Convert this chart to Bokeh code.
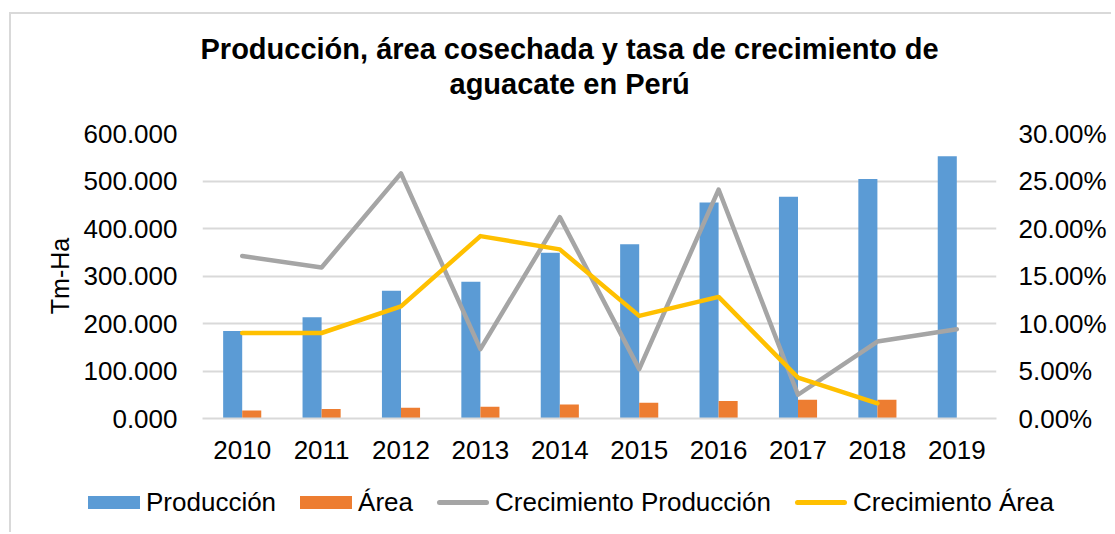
from bokeh.plotting import figure
from bokeh.layouts import column
from bokeh.models import (ColumnDataSource, Range1d, LinearAxis, FixedTicker, Title,
                          FactorRange, Div)
from bokeh.transform import dodge
from bokeh.embed import file_html
from bokeh.resources import INLINE

NaN = float("nan")

years = ["2010", "2011", "2012", "2013", "2014", "2015", "2016", "2017", "2018", "2019"]
produccion = [184000, 213000, 269000, 288000, 349000, 367000, 455000, 467000, 504000, 552000]
area = [17000, 20000, 22500, 25000, 29500, 33000, 37000, 39500, 39500, NaN]
crec_produccion = [17.1, 15.9, 25.8, 7.3, 21.2, 5.2, 24.1, 2.5, 8.1, 9.4]
crec_area = [9.0, 9.0, 11.8, 19.2, 17.8, 10.8, 12.8, 4.3, 1.6, NaN]

left_ticks = [0, 100000, 200000, 300000, 400000, 500000, 600000]
left_labels = ["0.000", "100.000", "200.000", "300.000", "400.000", "500.000", "600.000"]
right_ticks = [0, 5, 10, 15, 20, 25, 30]
right_labels = ["0.00%", "5.00%", "10.00%", "15.00%", "20.00%", "25.00%", "30.00%"]

series_names = ["Producción", "Área", "Crecimiento Producción", "Crecimiento Área"]
series_kinds = ["bar", "bar", "line", "line"]
title_1 = "Producción, área cosechada y tasa de crecimiento de"
title_2 = "aguacate en Perú"

FONT = "Liberation Sans"
BLUE, ORANGE, GRAY, YELLOW = "#5B9BD5", "#ED7D31", "#A5A5A5", "#FFC000"
series_colors = [BLUE, ORANGE, GRAY, YELLOW]
GRID = "#D9D9D9"

source = ColumnDataSource(dict(year=years, prod=produccion, area=area,
                               cp=crec_produccion, ca=crec_area))

p = figure(x_range=FactorRange(*years), y_range=Range1d(0, 600000),
           frame_width=794, frame_height=285,
           min_border_left=191, min_border_right=115, min_border_top=119, min_border_bottom=60,
           output_backend="svg", toolbar_location=None, title=None)
p.extra_y_ranges = {"pct": Range1d(0, 30)}
p.outline_line_color = None
p.background_fill_color = "white"
p.border_fill_color = "white"

r_prod = p.vbar(x=dodge("year", -0.12, range=p.x_range), top="prod", width=0.24,
                source=source, fill_color=BLUE, line_color=None)
r_area = p.vbar(x=dodge("year", 0.12, range=p.x_range), top="area", width=0.24,
                source=source, fill_color=ORANGE, line_color=None)
r_cp = p.line(x="year", y="cp", source=source, y_range_name="pct", line_color=GRAY,
              line_width=4.5, line_join="round", line_cap="round")
r_ca = p.line(x="year", y="ca", source=source, y_range_name="pct", line_color=YELLOW,
              line_width=4.5, line_join="round", line_cap="round")

# grid
p.xgrid.grid_line_color = None
p.ygrid.grid_line_color = GRID
p.ygrid.grid_line_width = 2
p.ygrid.ticker = FixedTicker(ticks=left_ticks)

TICK_SIZE = "26px"

# left axis
ya = p.yaxis[0]
ya.ticker = FixedTicker(ticks=left_ticks)
ya.major_label_overrides = {t: l for t, l in zip(left_ticks, left_labels)}
ya.axis_label = "Tm-Ha"
ya.axis_label_text_font = FONT
ya.axis_label_text_font_size = "25px"
ya.axis_label_text_font_style = "normal"
ya.axis_label_text_color = "black"
ya.axis_label_standoff = 7
ya.major_label_text_font = FONT
ya.major_label_text_font_size = TICK_SIZE
ya.major_label_text_color = "black"
ya.major_label_standoff = 25
ya.major_tick_out = 0
ya.major_tick_in = 0
ya.axis_line_color = None
ya.major_tick_line_color = None
ya.minor_tick_line_color = None

# right axis
ra = LinearAxis(y_range_name="pct", ticker=FixedTicker(ticks=right_ticks))
ra.major_label_overrides = {t: l for t, l in zip(right_ticks, right_labels)}
ra.major_label_text_font = FONT
ra.major_label_text_font_size = TICK_SIZE
ra.major_label_text_color = "black"
ra.major_label_standoff = 22
ra.major_tick_out = 0
ra.major_tick_in = 0
ra.axis_line_color = None
ra.major_tick_line_color = None
ra.minor_tick_line_color = None
p.add_layout(ra, "right")

# x axis
xa = p.xaxis[0]
xa.major_label_text_font = FONT
xa.major_label_text_font_size = TICK_SIZE
xa.major_label_text_color = "black"
xa.major_label_standoff = 22
xa.major_tick_out = 0
xa.major_tick_in = 0
xa.axis_line_color = GRID
xa.axis_line_width = 2
xa.major_tick_line_color = None
xa.minor_tick_line_color = None

# titles (a thin spacer sits closest to the frame)
spacer = Title(text=" ", text_font_size="1px", standoff=29)
t2 = Title(text=title_2, align="left", offset=247, standoff=3,
           text_font=FONT, text_font_size="29px", text_font_style="bold", text_color="black")
t1 = Title(text=title_1, align="left", offset=-2, standoff=0,
           text_font=FONT, text_font_size="29px", text_font_style="bold", text_color="black")
p.add_layout(spacer, "above")
p.add_layout(t2, "above")
p.add_layout(t1, "above")

# legend strip below the chart
parts = []
for i, (name, kind, col) in enumerate(zip(series_names, series_kinds, series_colors)):
    if kind == "bar":
        sw = (f'<span style="display:inline-block;width:52px;height:13px;'
              f'background:{col};margin-right:6px"></span>')
    else:
        sw = (f'<span style="display:inline-block;width:52px;height:5px;border-radius:3px;'
              f'background:{col};margin-right:6px"></span>')
    gap = "margin-left:24px;" if i > 0 else ""
    parts.append(f'<span style="display:inline-flex;align-items:center;{gap}">{sw}'
                 f'<span>{name}</span></span>')
legend_html = ('<div style="display:flex;align-items:center;height:50px;padding-left:77px;'
               f"font-family:'{FONT}';font-size:26px;color:black;white-space:nowrap\">"
               + "".join(parts) + "</div>")
lg = Div(text=legend_html, width=1100, height=54, margin=0)

layout = column(p, lg, spacing=0,
                styles={"border-top": "2px solid #D9D9D9", "border-left": "2px solid #D9D9D9",
                        "margin-top": "12px", "margin-left": "9px"})

open("out.html", "w").write(file_html(layout, INLINE))
